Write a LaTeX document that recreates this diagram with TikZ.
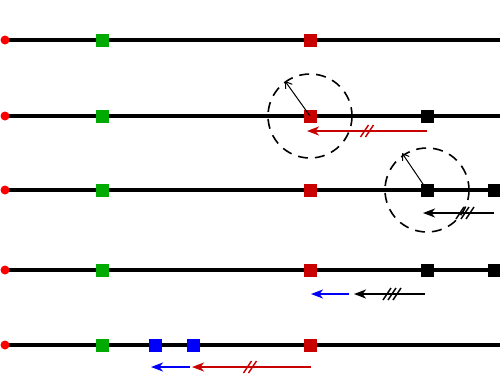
\documentclass[tikz,border=0pt]{standalone}
\usetikzlibrary{arrows.meta,calc}
\definecolor{sqred}{RGB}{200,0,0}
\definecolor{dotred}{RGB}{250,0,0}
\definecolor{sqgreen}{RGB}{0,170,0}
\definecolor{sqblue}{RGB}{0,0,250}
\tikzset{
  rail/.style={line width=3.5pt, black},
  sq/.style={rectangle, minimum size=13pt, inner sep=0pt, draw=none},
  gsq/.style={sq, fill=sqgreen},
  rsq/.style={sq, fill=sqred},
  bsq/.style={sq, fill=black},
  blsq/.style={sq, fill=sqblue},
  rdot/.style={circle, minimum size=9pt, inner sep=0pt, fill=dotred},
  mv/.style={line width=1.8pt, -{Stealth[length=12pt,width=9pt,inset=3.5pt]}},
  zone/.style={line width=1.6pt, dash pattern=on 10pt off 7pt},
  rad/.style={line width=1pt, {Straight Barb[length=6pt,width=8pt]}-},
  tick/.style={line width=1.5pt}
}
\newcommand{\slashes}[3]{% coordinate, count, colour
  \foreach \k in {1,...,#2} {
    \draw[tick,#3] ($(#1)+({(\k-(#2+1)/2)*5-4},6)$) -- ++(8,-12);
  }
}
\begin{document}
\begin{tikzpicture}[x=1pt,y=-1pt]
\useasboundingbox (0,0) rectangle (500,373);
% rails
\foreach \r/\y in {1/40,2/116,3/190,4/270,5/345} {
  \coordinate (s\r) at (5,\y);
  \coordinate (e\r) at (500,\y);
  \draw[rail] (s\r) -- (e\r);
  \node[rdot] (d\r) at (s\r) {};
  \node[gsq] (g\r) at (102,\y) {};
  \node[rsq] (r\r) at (310,\y) {};
}
\node[bsq] (k2) at (427,116) {};
\node[bsq] (k3) at (427,190) {};
\node[bsq] (m3) at (494,190) {};
\node[bsq] (k4) at (427,270) {};
\node[bsq] (m4) at (494,270) {};
\node[blsq] (b1) at (155,345) {};
\node[blsq] (b2) at (193,345) {};
% zone circles
\draw[zone] (r2.center) circle (42);
\coordinate (p2) at (285,81);
\draw[rad] (p2) -- (r2.center);
\draw[zone] (k3.center) circle (42);
\coordinate (p3) at (402,153);
\draw[rad] (p3) -- (k3.center);
% row 2 arrow
\coordinate (a2s) at (427,131);
\coordinate (a2e) at (307,131);
\draw[mv,sqred] (a2s) -- (a2e);
\coordinate (t2) at (367,131);
\slashes{t2}{2}{sqred}
% row 3 arrow
\coordinate (a3s) at (494,213);
\coordinate (a3e) at (423,213);
\draw[mv] (a3s) -- (a3e);
\coordinate (t3) at (465,213);
\slashes{t3}{3}{black}
% row 4 arrows
\coordinate (a4s) at (425,294);
\coordinate (a4e) at (354,294);
\draw[mv] (a4s) -- (a4e);
\coordinate (t4) at (392,294);
\slashes{t4}{3}{black}
\coordinate (c4s) at (349,294);
\coordinate (c4e) at (311,294);
\draw[mv,sqblue] (c4s) -- (c4e);
% row 5 arrows
\coordinate (a5s) at (311,367);
\coordinate (a5e) at (192,367);
\draw[mv,sqred] (a5s) -- (a5e);
\coordinate (t5) at (250,367);
\slashes{t5}{2}{sqred}
\coordinate (c5s) at (190,367);
\coordinate (c5e) at (151,367);
\draw[mv,sqblue] (c5s) -- (c5e);
\end{tikzpicture}
\end{document}
